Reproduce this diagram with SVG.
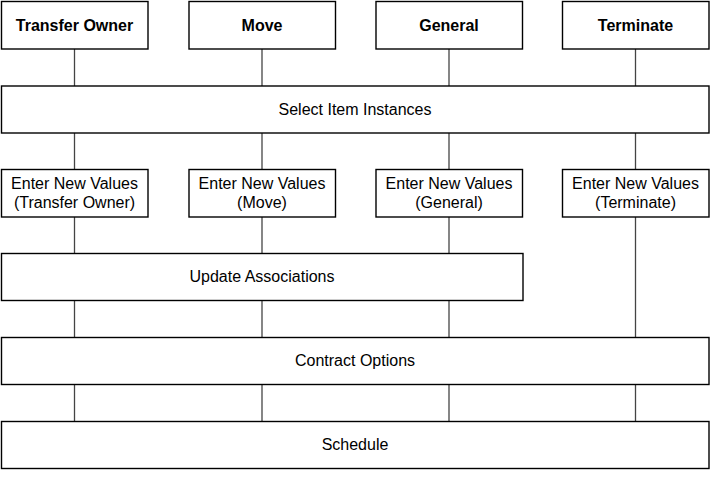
<svg xmlns="http://www.w3.org/2000/svg" width="721" height="481" viewBox="0 0 721 481">
<style>
rect{fill:#fff;stroke:#000;stroke-width:1.4}
text{font-family:"Liberation Sans",Arial,sans-serif;font-size:16px;fill:#000;text-anchor:middle}
.b{font-weight:bold;font-size:16px}
#connectors line{stroke:#444;stroke-width:1.3}
</style>
<rect x="0" y="0" width="721" height="481" style="fill:#fff;stroke:none"/>
<g id="connectors">
<line x1="74.5" y1="49" x2="74.5" y2="86"/>
<line x1="262" y1="49" x2="262" y2="86"/>
<line x1="449" y1="49" x2="449" y2="86"/>
<line x1="635.5" y1="49" x2="635.5" y2="86"/>
<line x1="74.5" y1="133" x2="74.5" y2="169"/>
<line x1="262" y1="133" x2="262" y2="169"/>
<line x1="449" y1="133" x2="449" y2="169"/>
<line x1="635.5" y1="133" x2="635.5" y2="169"/>
<line x1="74.5" y1="217" x2="74.5" y2="253"/>
<line x1="262" y1="217" x2="262" y2="253"/>
<line x1="449" y1="217" x2="449" y2="253"/>
<line x1="635.5" y1="217" x2="635.5" y2="337"/>
<line x1="74.5" y1="300" x2="74.5" y2="337"/>
<line x1="262" y1="300" x2="262" y2="337"/>
<line x1="449" y1="300" x2="449" y2="337"/>
<line x1="74.5" y1="384" x2="74.5" y2="421"/>
<line x1="262" y1="384" x2="262" y2="421"/>
<line x1="449" y1="384" x2="449" y2="421"/>
<line x1="635.5" y1="384" x2="635.5" y2="421"/>
</g>
<g id="transfer-owner"><rect x="1.5" y="1.5" width="146.5" height="47.5"/><text class="b" x="74.5" y="30.5">Transfer Owner</text></g>
<g id="move"><rect x="189" y="1.5" width="146.5" height="47.5"/><text class="b" x="262" y="30.5">Move</text></g>
<g id="general"><rect x="376" y="1.5" width="146.5" height="47.5"/><text class="b" x="449" y="30.5">General</text></g>
<g id="terminate"><rect x="562.5" y="1.5" width="146.5" height="47.5"/><text class="b" x="635.5" y="30.5">Terminate</text></g>
<g id="select-item-instances"><rect x="1.5" y="86" width="707.5" height="47"/><text x="355" y="114.5">Select Item Instances</text></g>
<g id="env-transfer-owner"><rect x="1.5" y="169.5" width="146.5" height="47.5"/><text x="74.5" y="188.5">Enter New Values</text><text x="74.5" y="207.5">(Transfer Owner)</text></g>
<g id="env-move"><rect x="189" y="169.5" width="146.5" height="47.5"/><text x="262" y="188.5">Enter New Values</text><text x="262" y="207.5">(Move)</text></g>
<g id="env-general"><rect x="376" y="169.5" width="146.5" height="47.5"/><text x="449" y="188.5">Enter New Values</text><text x="449" y="207.5">(General)</text></g>
<g id="env-terminate"><rect x="562.5" y="169.5" width="146.5" height="47.5"/><text x="635.5" y="188.5">Enter New Values</text><text x="635.5" y="207.5">(Terminate)</text></g>
<g id="update-associations"><rect x="1.5" y="253.5" width="521.5" height="47"/><text x="262" y="281.5">Update Associations</text></g>
<g id="contract-options"><rect x="1.5" y="337.5" width="707.5" height="47"/><text x="355" y="365.5">Contract Options</text></g>
<g id="schedule"><rect x="1.5" y="421.5" width="707.5" height="47"/><text x="355" y="449.5">Schedule</text></g>
</svg>
